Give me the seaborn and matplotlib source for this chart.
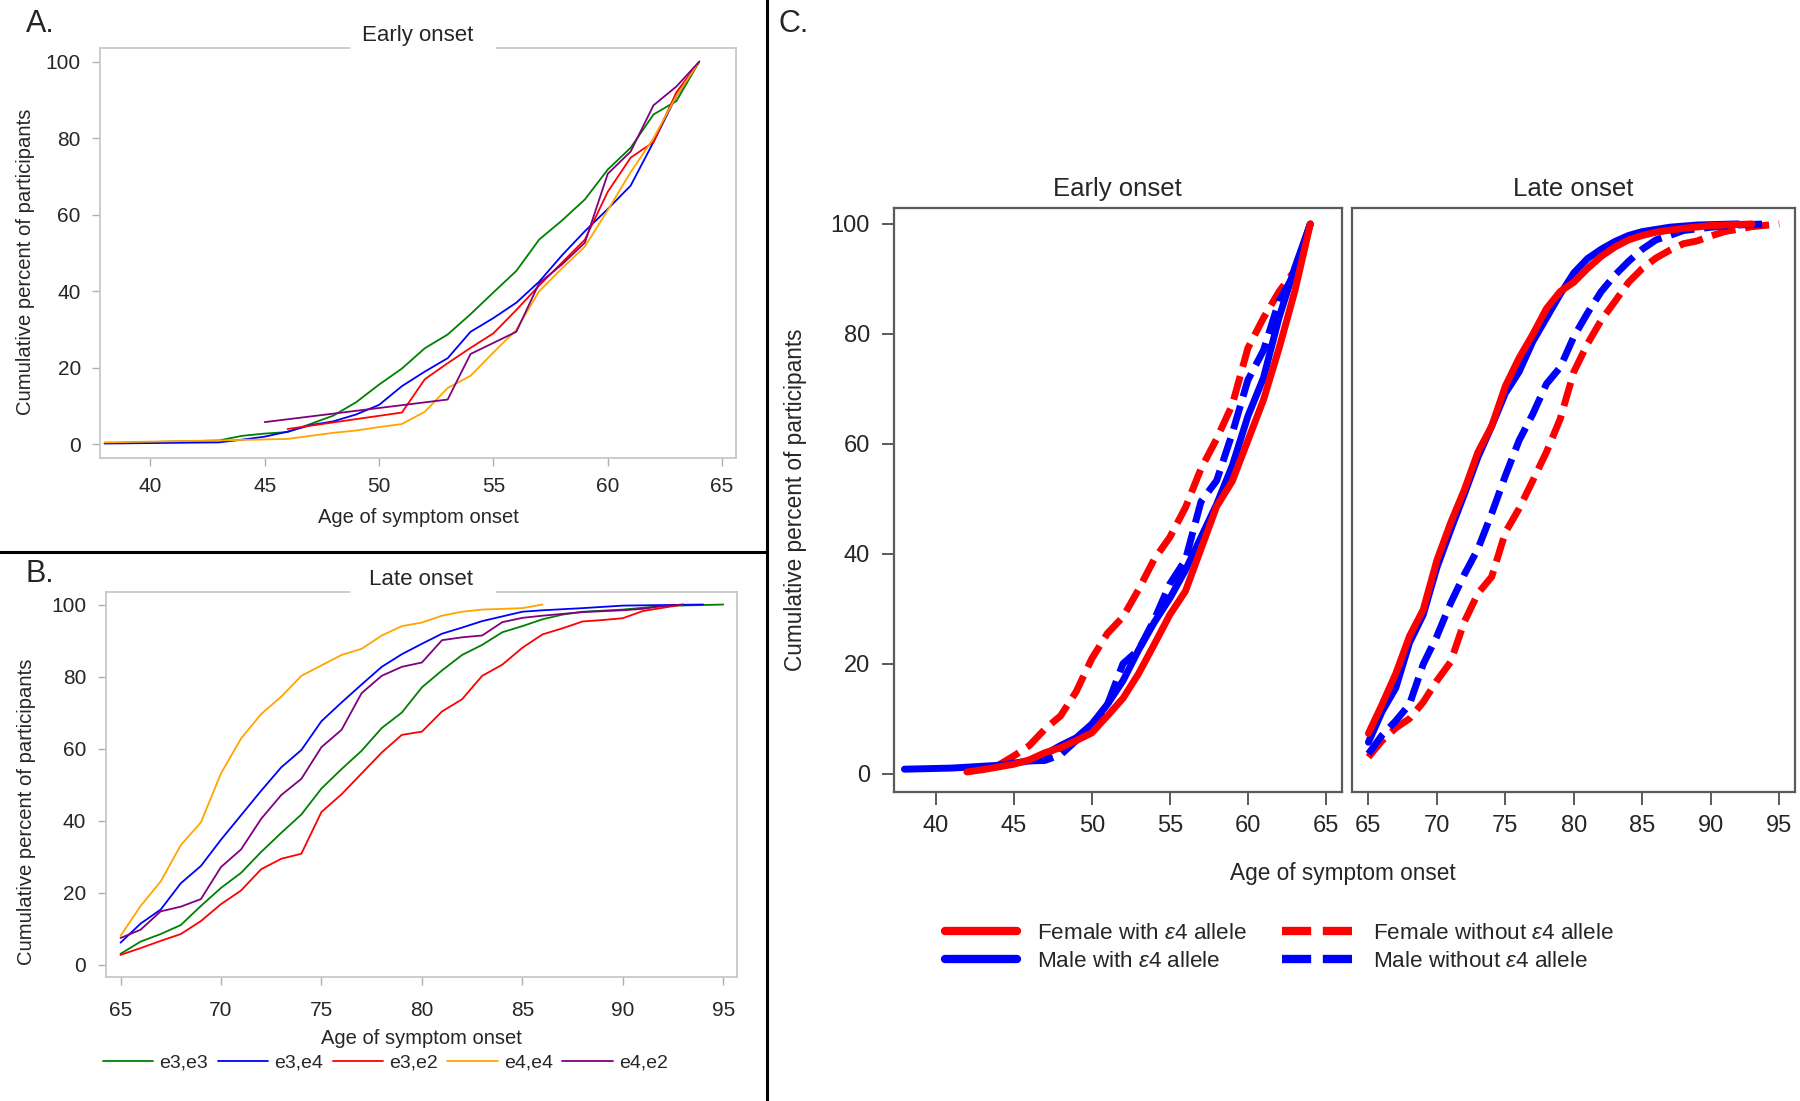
import os
import pandas as pd
import matplotlib
matplotlib.use("Agg")
import matplotlib.pyplot as plt
import seaborn as sns
from matplotlib import font_manager
from matplotlib.lines import Line2D
from matplotlib.patches import Rectangle

sns.set_style("white")

SANS = "Liberation Sans"
NARROW = SANS
for f in font_manager.fontManager.ttflist:
    if os.path.basename(f.fname).startswith("LiberationSansNarrow-Regular"):
        font_manager.fontManager.addfont(f.fname)
        NARROW = f.name
        break
plt.rcParams["font.family"] = [SANS, "DejaVu Sans"]
plt.rcParams["mathtext.fontset"] = "custom"
plt.rcParams["mathtext.rm"] = SANS
plt.rcParams["mathtext.it"] = SANS + ":italic"

# ---- panel A: early onset by genotype ----
genotypes = ["e3,e3", "e3,e4", "e3,e2", "e4,e4", "e4,e2"]
geno_colors = {"e3,e3": "#008000", "e3,e4": "#0000ff", "e3,e2": "#ff0000",
               "e4,e4": "#ffa500", "e4,e2": "#800080"}

early_e3e3_age = [38, 43, 44, 45, 46, 47, 48, 49, 50, 51, 52, 53, 54, 55, 56, 57, 58, 59, 60, 61, 62, 63, 64]
early_e3e3_pct = [0.3, 1.0, 2.2, 2.8, 3.2, 5.3, 7.5, 11.0, 15.6, 19.8, 25.1, 28.7, 34.0, 39.7, 45.3, 53.5,
                  58.5, 64.0, 71.8, 77.5, 86.2, 89.7, 100]
early_e3e4_age = [38, 43, 44, 45, 46, 47, 48, 49, 50, 51, 52, 53, 54, 55, 56, 57, 58, 59, 60, 61, 62, 63, 64]
early_e3e4_pct = [0.2, 0.5, 1.2, 2.0, 3.3, 5.0, 6.0, 7.8, 10.3, 15.2, 19.0, 22.5, 29.4, 33.0, 37.0, 42.5,
                  49.4, 55.7, 61.5, 67.6, 79.0, 91.0, 100]
early_e3e2_age = [46, 51, 52, 53, 54, 55, 56, 57, 58, 59, 60, 61, 62, 63, 64]
early_e3e2_pct = [4.0, 8.3, 17.0, 21.2, 25.2, 29.0, 35.1, 41.5, 47.5, 53.5, 66.0, 74.9, 79.0, 92.0, 100]
early_e4e4_age = [38, 43, 46, 47, 48, 49, 50, 51, 52, 53, 54, 55, 56, 57, 58, 59, 60, 61, 62, 63, 64]
early_e4e4_pct = [0.5, 1.0, 1.4, 2.2, 3.0, 3.6, 4.5, 5.3, 8.5, 14.7, 17.9, 24.0, 29.9, 40.0, 46.0, 51.7,
                  61.2, 71.1, 80.0, 91.0, 100]
early_e4e2_age = [45, 53, 54, 55, 56, 57, 58, 59, 60, 61, 62, 63, 64]
early_e4e2_pct = [5.8, 11.7, 23.6, 26.5, 29.4, 42.1, 47.0, 52.7, 70.7, 76.5, 88.6, 93.5, 100]

# ---- panel B: late onset by genotype ----
late_e3e3_age = list(range(65, 89)) + [90, 92, 95]
late_e3e3_pct = [3.0, 6.4, 8.5, 11.0, 16.3, 21.3, 25.5, 31.3, 36.6, 41.7, 48.9, 54.3, 59.4, 65.7, 70.0,
                 77.0, 81.7, 86.0, 88.8, 92.3, 94.0, 95.9, 97.2, 98.0, 98.6, 99.6, 100]
late_e3e4_age = list(range(65, 87)) + [88, 90, 94]
late_e3e4_pct = [6.1, 11.4, 15.3, 22.6, 27.4, 34.7, 41.5, 48.3, 54.8, 59.6, 67.6, 72.8, 77.8, 82.7, 86.2,
                 89.1, 91.9, 93.6, 95.4, 96.7, 98.0, 98.4, 99.0, 99.7, 100]
late_e3e2_age = list(range(65, 94))
late_e3e2_pct = [2.7, 4.6, 6.6, 8.5, 12.1, 16.8, 20.6, 26.5, 29.4, 30.8, 42.4, 47.3, 53.1, 58.9, 63.8,
                 64.7, 70.3, 73.7, 80.2, 83.3, 88.0, 91.7, 93.4, 95.3, 95.7, 96.2, 98.2, 99.1, 100]
late_e4e4_age = list(range(65, 84)) + [85, 86]
late_e4e4_pct = [8.0, 16.3, 23.1, 33.2, 39.5, 53.1, 62.8, 69.6, 74.4, 80.2, 83.1, 86.0, 87.7, 91.4, 94.0,
                 95.0, 96.9, 98.0, 98.6, 99.0, 100]
late_e4e2_age = list(range(65, 87)) + [88, 90, 91, 92, 93]
late_e4e2_pct = [7.4, 9.7, 14.8, 16.1, 18.2, 27.1, 32.0, 40.5, 47.1, 51.6, 60.4, 65.2, 75.4, 80.2, 82.7,
                 83.9, 90.1, 90.9, 91.4, 95.1, 96.3, 96.9, 97.9, 98.4, 98.8, 99.6, 100]

# ---- panel C: by sex and e4 carrier status ----
c_early_fwith_age = list(range(42, 65))
c_early_fwith_pct = [0.3, 0.7, 1.2, 1.7, 2.5, 3.8, 4.7, 6.0, 7.4, 10.5, 13.7, 18.2, 23.5, 28.9, 33.2,
                     40.9, 48.6, 53.2, 60.6, 68.0, 77.4, 87.7, 100]
c_early_mwith_age = [38, 41, 44, 46] + list(range(47, 65))
c_early_mwith_pct = [0.8, 1.0, 1.5, 2.3, 3.5, 5.1, 6.5, 9.0, 12.6, 16.9, 22.5, 27.5, 31.9, 37.0, 43.0,
                     49.0, 56.0, 65.0, 72.0, 83.0, 92.0, 100]
c_early_fwithout_age = list(range(44, 65))
c_early_fwithout_pct = [1.5, 3.2, 5.1, 8.1, 10.5, 14.9, 20.9, 25.5, 28.5, 33.5, 39.0, 43.0, 48.4, 55.5,
                        60.9, 67.1, 77.4, 82.9, 87.7, 91.5, 100]
c_early_mwithout_age = list(range(46, 65))
c_early_mwithout_pct = [2.3, 2.4, 3.4, 6.0, 8.5, 12.5, 20.0, 22.5, 28.0, 34.5, 38.9, 49.5, 53.3, 61.9,
                        71.6, 77.0, 86.0, 91.0, 100]

c_late_fwith_age = list(range(65, 87)) + [88, 90, 93]
c_late_fwith_pct = [7.3, 12.6, 18.2, 25.0, 29.8, 38.8, 45.6, 51.6, 58.5, 63.2, 70.5, 75.6, 79.9, 84.6,
                    87.7, 89.4, 91.9, 94.1, 95.8, 97.1, 97.9, 98.5, 99.2, 99.7, 100]
c_late_mwith_age = list(range(65, 86)) + [87, 89, 92]
c_late_mwith_pct = [5.7, 11.3, 15.6, 23.8, 28.9, 37.5, 44.3, 50.8, 57.6, 63.2, 69.2, 73.1, 78.6, 82.9,
                    87.2, 91.1, 93.7, 95.4, 96.8, 97.9, 98.6, 99.4, 99.8, 100]
c_late_fwithout_age = list(range(65, 92)) + [93, 95]
c_late_fwithout_pct = [3.0, 6.0, 8.3, 10.0, 13.0, 16.9, 20.3, 27.6, 32.8, 35.8, 43.9, 48.2, 53.3, 58.5,
                       64.5, 73.1, 78.2, 82.5, 85.9, 89.4, 91.9, 93.8, 95.2, 96.4, 96.9, 97.8, 98.6,
                       99.5, 100]
c_late_mwithout_age = list(range(65, 89)) + [90, 92, 94]
c_late_mwithout_pct = [3.6, 7.0, 9.6, 12.6, 19.9, 25.0, 31.0, 36.2, 40.9, 47.3, 54.2, 60.6, 65.4, 70.9,
                       73.9, 79.5, 83.8, 87.7, 90.7, 93.2, 95.4, 97.1, 97.9, 98.8, 99.4, 99.8, 100]

group_labels = ["Female with $\\mathit{ε4}$ allele", "Male with $\\mathit{ε4}$ allele",
                "Female without $\\mathit{ε4}$ allele", "Male without $\\mathit{ε4}$ allele"]
group_colors = ["#ff0000", "#0000ff", "#ff0000", "#0000ff"]
group_dashes = ["", "", (3.5, 1.4), (3.5, 1.4)]


def long_frame(series):
    parts = []
    for name, ages, pcts in series:
        parts.append(pd.DataFrame({"group": name, "age": ages, "pct": pcts}))
    return pd.concat(parts, ignore_index=True)


early_geno = long_frame([
    ("e3,e3", early_e3e3_age, early_e3e3_pct), ("e3,e4", early_e3e4_age, early_e3e4_pct),
    ("e3,e2", early_e3e2_age, early_e3e2_pct), ("e4,e4", early_e4e4_age, early_e4e4_pct),
    ("e4,e2", early_e4e2_age, early_e4e2_pct)])
late_geno = long_frame([
    ("e3,e3", late_e3e3_age, late_e3e3_pct), ("e3,e4", late_e3e4_age, late_e3e4_pct),
    ("e3,e2", late_e3e2_age, late_e3e2_pct), ("e4,e4", late_e4e4_age, late_e4e4_pct),
    ("e4,e2", late_e4e2_age, late_e4e2_pct)])
early_sex = long_frame([
    (0, c_early_fwith_age, c_early_fwith_pct), (1, c_early_mwith_age, c_early_mwith_pct),
    (2, c_early_fwithout_age, c_early_fwithout_pct), (3, c_early_mwithout_age, c_early_mwithout_pct)])
late_sex = long_frame([
    (0, c_late_fwith_age, c_late_fwith_pct), (1, c_late_mwith_age, c_late_mwith_pct),
    (2, c_late_fwithout_age, c_late_fwithout_pct), (3, c_late_mwithout_age, c_late_mwithout_pct)])


def genotype_panel(ax, df, xlim, xticks, title, gap, xpad):
    sns.lineplot(data=df, x="age", y="pct", hue="group", hue_order=genotypes, palette=geno_colors,
                 estimator=None, linewidth=1.3, legend=False, ax=ax)
    ax.set_xlim(*xlim)
    ax.set_ylim(-3.5, 103.6)
    ax.set_xticks(xticks)
    ax.set_yticks(range(0, 101, 20))
    for sp in ax.spines.values():
        sp.set_visible(True)
        sp.set_color("#c8c8c8")
        sp.set_linewidth(1.3)
    ax.tick_params(axis="both", direction="out", length=6, width=1, color="#b0b0b0",
                   labelsize=15, pad=8, left=True, bottom=True)
    ax.tick_params(axis="x", pad=xpad)
    for lbl in ax.get_xticklabels() + ax.get_yticklabels():
        lbl.set_fontfamily(NARROW)
    ax.set_xlabel("Age of symptom onset", fontsize=14.5, fontfamily=NARROW)
    ax.set_ylabel("Cumulative percent of participants", fontsize=14.6)
    ax.xaxis.label.set_va("center")
    ax.yaxis.label.set_va("center")
    # white gap in the top frame behind the title
    ax.add_patch(Rectangle((gap[0], 0.99), gap[1] - gap[0], 0.03, transform=ax.transAxes,
                           facecolor="white", edgecolor="none", zorder=9, clip_on=False))
    ax.text(0.5, 1.03, title, transform=ax.transAxes, ha="center", va="center", fontsize=16,
            fontfamily=NARROW, zorder=10, clip_on=False)


def sex_panel(ax, df, xlim, xticks, title):
    for i in [2, 3, 1, 0]:
        sub = df[df["group"] == i]
        sns.lineplot(data=sub, x="age", y="pct", color=group_colors[i], estimator=None,
                     linewidth=5, legend=False, ax=ax)
        if group_dashes[i] != "":
            ax.lines[-1].set_dashes(group_dashes[i])
    ax.set_xlim(*xlim)
    ax.set_ylim(-3.3, 102.9)
    ax.set_xticks(xticks)
    ax.set_yticks(range(0, 101, 20))
    for sp in ax.spines.values():
        sp.set_visible(True)
        sp.set_color("#5a5a5a")
        sp.set_linewidth(1.6)
    ax.tick_params(axis="both", direction="out", length=9, width=1.4, color="#5a5a5a",
                   labelsize=17, pad=8, left=True, bottom=True)
    ax.set_xlabel("")
    ax.set_ylabel("")
    ax.text(0.5, 1.032, title, transform=ax.transAxes, ha="center", va="center", fontsize=18.5)


fig = plt.figure(figsize=(18, 11.01), dpi=100)

ax_a = fig.add_axes([0.0557, 0.5843, 0.3531, 0.3722])
genotype_panel(ax_a, early_geno, (37.81, 65.6), range(40, 66, 5), "Early onset", (0.393, 0.623), 8)
ax_a.xaxis.set_label_coords(0.5, -0.146)
ax_a.yaxis.set_label_coords(-0.117, 0.477)

ax_b = fig.add_axes([0.0587, 0.1124, 0.3506, 0.3503])
genotype_panel(ax_b, late_geno, (64.26, 95.67), range(65, 96, 5), "Late onset", (0.3875, 0.619), 11)
ax_b.xaxis.set_label_coords(0.5, -0.158)
ax_b.yaxis.set_label_coords(-0.126, 0.43)

geno_handles = [Line2D([], [], color=geno_colors[g], lw=1.3) for g in genotypes]
fig.legend(geno_handles, genotypes, loc="center", bbox_to_anchor=(0.214, 0.0345), ncol=5,
           frameon=False, handlelength=2.6, handletextpad=0.3, columnspacing=0.5,
           prop={"family": NARROW, "size": 14})

ax_ce = fig.add_axes([0.4964, 0.2809, 0.2489, 0.5302])
sex_panel(ax_ce, early_sex, (37.3, 66.0), range(40, 66, 5), "Early onset")
ax_ce.set_ylabel("Cumulative percent of participants", fontsize=16.3)
ax_ce.yaxis.label.set_va("center")
ax_ce.yaxis.set_label_coords(-0.2185, 0.5)

ax_cl = fig.add_axes([0.7511, 0.2809, 0.2463, 0.5302])
sex_panel(ax_cl, late_sex, (63.8, 96.17), range(65, 96, 5), "Late onset")
ax_cl.tick_params(axis="y", left=False, labelleft=False)

fig.text(0.746, 1 - 873.6 / 1101, "Age of symptom onset", ha="center", va="center", fontsize=16.3)

sex_handles = [Line2D([], [], color=group_colors[i], lw=6,
                      dashes=group_dashes[i] if group_dashes[i] != "" else (None, None))
               for i in range(4)]
fig.legend(sex_handles, group_labels, loc="center", bbox_to_anchor=(0.711, 0.1394), ncol=2,
           frameon=False, handlelength=3.2, handletextpad=0.87, columnspacing=1.55,
           labelspacing=0.3, fontsize=16.2)

# panel letters and separators
fig.text(40 / 1800, 1 - 24 / 1101, "A.", ha="center", va="center", fontsize=22)
fig.text(40 / 1800, 1 - 574 / 1101, "B.", ha="center", va="center", fontsize=22)
fig.text(794 / 1800, 1 - 24 / 1101, "C.", ha="center", va="center", fontsize=22)
fig.add_artist(Line2D([0, 767 / 1800], [1 - 552 / 1101, 1 - 552 / 1101], color="black", lw=2.2,
                      transform=fig.transFigure))
fig.add_artist(Line2D([767 / 1800, 767 / 1800], [0, 1], color="black", lw=2.2,
                      transform=fig.transFigure))

fig.savefig("out.png", dpi=100, facecolor="white")
